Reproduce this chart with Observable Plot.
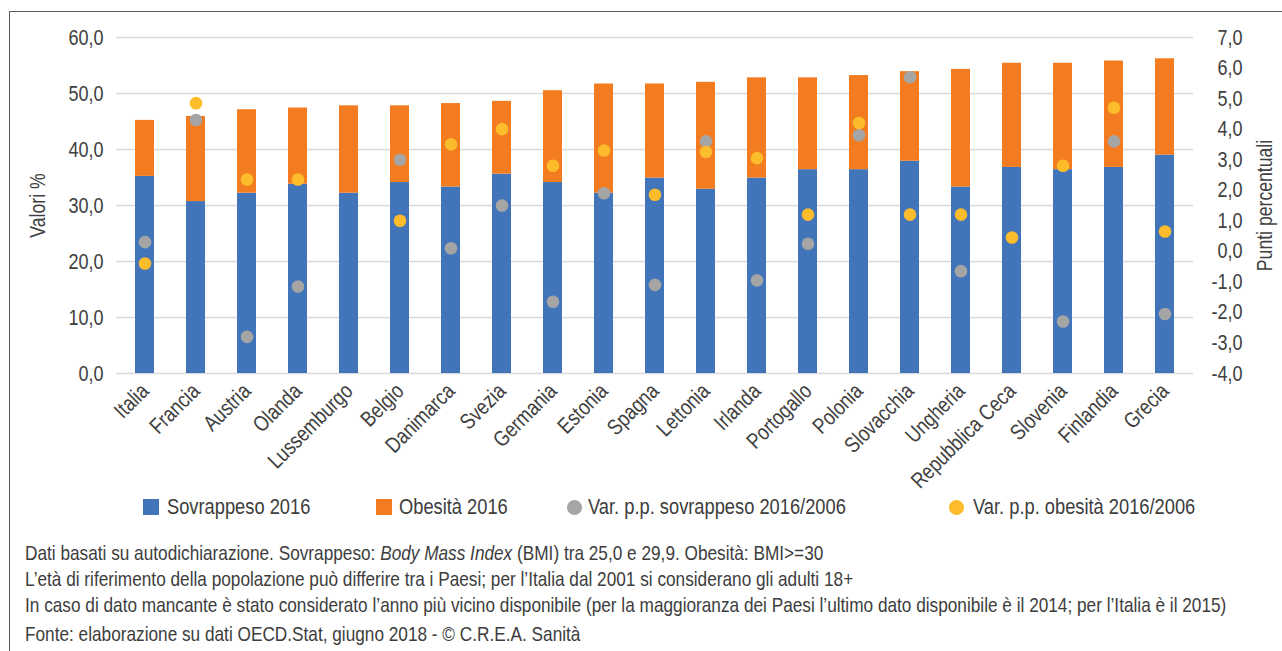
<!DOCTYPE html>
<html>
<head>
<meta charset="utf-8">
<script src="https://cdn.jsdelivr.net/npm/d3@7"></script>
<script src="https://cdn.jsdelivr.net/npm/@observablehq/plot@0.6"></script>
<style>
  html, body { margin: 0; padding: 0; background: #ffffff; }
  #wrap { position: relative; width: 1282px; height: 651px; overflow: hidden; background: #fff;
          font-family: "Liberation Sans", Arial, sans-serif; color: #3d3d3d; }
  #frame { position: absolute; left: 9px; top: 11px; width: 1400px; height: 800px;
           border-top: 1.5px solid #5a5a5a; border-left: 1.5px solid #5a5a5a; }
  #chart { position: absolute; left: 0; top: 0; }
  .leg { position: absolute; font-size: 22.3px; line-height: 22px; white-space: nowrap;
         transform: scaleX(0.82); transform-origin: 0 50%; }
  .sym { position: absolute; }
  #caption { position: absolute; left: 25px; top: 540px; font-size: 21px; line-height: 25.8px; white-space: nowrap; }
  #caption div { transform: scaleX(0.82); transform-origin: 0 50%; }
  #caption .fonte { margin-top: 4px; }
</style>
</head>
<body>
<div id="wrap">
  <div id="frame"></div>
  <div id="chart"></div>
  <div id="legend"></div>
  <div id="caption">
    <div>Dati basati su autodichiarazione. Sovrappeso: <i>Body Mass Index</i> (BMI) tra 25,0 e 29,9. Obesità: BMI&gt;=30</div>
    <div>L’età di riferimento della popolazione può differire tra i Paesi; per l’Italia dal 2001 si considerano gli adulti 18+</div>
    <div>In caso di dato mancante è stato considerato l’anno più vicino disponibile (per la maggioranza dei Paesi l’ultimo dato disponibile è il 2014; per l’Italia è il 2015)</div>
    <div class="fonte">Fonte: elaborazione su dati OECD.Stat, giugno 2018 - © C.R.E.A. Sanità</div>
  </div>
</div>
<script>
const categories = ["Italia","Francia","Austria","Olanda","Lussemburgo","Belgio","Danimarca","Svezia","Germania","Estonia","Spagna","Lettonia","Irlanda","Portogallo","Polonia","Slovacchia","Ungheria","Repubblica Ceca","Slovenia","Finlandia","Grecia"];
const sovrappeso = [35.2, 30.7, 32.2, 33.8, 32.2, 34.1, 33.3, 35.6, 34.1, 32.2, 34.9, 32.9, 34.9, 36.4, 36.4, 37.9, 33.3, 36.8, 36.4, 36.8, 39.0];
const obesita    = [10.0, 15.2, 14.9, 13.6, 15.6, 13.7, 14.9, 13.0, 16.4, 19.5, 16.8, 19.1, 17.9, 16.4, 16.8, 16.0, 21.0, 18.6, 19.0, 19.0, 17.2];
const varSovrappeso = [0.3, 4.3, -2.8, -1.15, null, 3.0, 0.1, 1.5, -1.65, 1.9, -1.1, 3.6, -0.95, 0.25, 3.8, 5.7, -0.65, null, -2.3, 3.6, -2.05];
const varObesita    = [-0.4, 4.85, 2.35, 2.35, null, 1.0, 3.5, 4.0, 2.8, 3.3, 1.85, 3.25, 3.05, 1.2, 4.2, 1.2, 1.2, 0.45, 2.8, 4.7, 0.65];
const leftTicks = [0, 10, 20, 30, 40, 50, 60];
const rightTicks = [-4, -3, -2, -1, 0, 1, 2, 3, 4, 5, 6, 7];
const seriesNames = ["Sovrappeso 2016", "Obesità 2016", "Var. p.p. sovrappeso 2016/2006", "Var. p.p. obesità 2016/2006"];
const seriesColors = ["#4274B9", "#F47C20", "#A5A5A5", "#FDBC2C"];
const leftTitle = "Valori %";
const rightTitle = "Punti percentuali";

const FONT = '"Liberation Sans", Arial, sans-serif';
const NARROW = 0.82;
const leftMax = leftTicks[leftTicks.length - 1];
const rMin = rightTicks[0], rMax = rightTicks[rightTicks.length - 1];
const toLeft = v => (v - rMin) / (rMax - rMin) * leftMax;
const fromLeft = d => Math.round(d / leftMax * (rMax - rMin) + rMin);
const fmt = v => v.toFixed(1).replace(".", ",");

const bars = categories.flatMap((c, i) => [
  {paese: c, serie: seriesNames[0], valore: sovrappeso[i]},
  {paese: c, serie: seriesNames[1], valore: obesita[i]}
]);
const dots = [];
categories.forEach((c, i) => { if (varSovrappeso[i] != null) dots.push({paese: c, serie: seriesNames[2], valore: varSovrappeso[i]}); });
categories.forEach((c, i) => { if (varObesita[i] != null) dots.push({paese: c, serie: seriesNames[3], valore: varObesita[i]}); });

const chart = Plot.plot({
  width: 1282,
  height: 496,
  marginTop: 37,
  marginBottom: 123,
  marginLeft: 116,
  marginRight: 89,
  style: {fontFamily: FONT, fontSize: "21px", color: "#404040", background: "transparent"},
  x: {domain: categories, type: "band", paddingInner: 0.62, paddingOuter: 0.31},
  y: {domain: [0, leftMax]},
  color: {domain: seriesNames, range: seriesColors},
  marks: [
    Plot.ruleY(leftTicks, {stroke: "#d9d9d9", strokeWidth: 1.5}),
    Plot.barY(bars, {x: "paese", y: "valore", fill: "serie"}),
    Plot.dot(dots, {x: "paese", y: d => toLeft(d.valore), fill: "serie", r: 6.3, stroke: null}),
    Plot.axisY(leftTicks, {anchor: "left", tickSize: 0, tickPadding: 13, tickFormat: fmt, fontSize: 22, label: null}),
    Plot.axisY(rightTicks.map(toLeft), {anchor: "right", tickSize: 0, tickPadding: 49, textAnchor: "end", tickFormat: d => fmt(fromLeft(d)), fontSize: 22, label: null}),
    Plot.axisX({tickRotate: -45, tickSize: 0, tickPadding: 14, fontSize: 22, label: null}),
    Plot.text([leftTitle], {frameAnchor: "left", textAnchor: "middle", dx: -78, rotate: -90, fontSize: 21.5, text: d => d}),
    Plot.text([rightTitle], {frameAnchor: "right", textAnchor: "middle", dx: 72, rotate: -90, fontSize: 21.5, text: d => d})
  ]
});
// condense all SVG text horizontally (along its own direction) around its anchor
chart.querySelectorAll("text").forEach(t => {
  const x = parseFloat(t.getAttribute("x")) || 0;
  const tr = t.getAttribute("transform") || "";
  t.setAttribute("transform", `${tr} translate(${x},0) scale(${NARROW},1) translate(${-x},0)`);
});
document.getElementById("chart").appendChild(chart);

// Legend
const legendPos = [
  {sym: "rect", left: 143, text: 167},
  {sym: "rect", left: 376, text: 399},
  {sym: "circle", left: 567, text: 588},
  {sym: "circle", left: 949, text: 973}
];
const legend = document.getElementById("legend");
seriesNames.forEach((name, i) => {
  const p = legendPos[i];
  const s = document.createElement("div");
  s.className = "sym";
  s.style.left = p.left + "px";
  s.style.top = (p.sym === "rect" ? 499 : 500) + "px";
  s.style.width = (p.sym === "rect" ? 16 : 15) + "px";
  s.style.height = (p.sym === "rect" ? 16 : 15) + "px";
  s.style.background = seriesColors[i];
  if (p.sym === "circle") s.style.borderRadius = "50%";
  legend.appendChild(s);
  const t = document.createElement("div");
  t.className = "leg";
  t.style.left = p.text + "px";
  t.style.top = "496px";
  t.textContent = name;
  legend.appendChild(t);
});
</script>
</body>
</html>
